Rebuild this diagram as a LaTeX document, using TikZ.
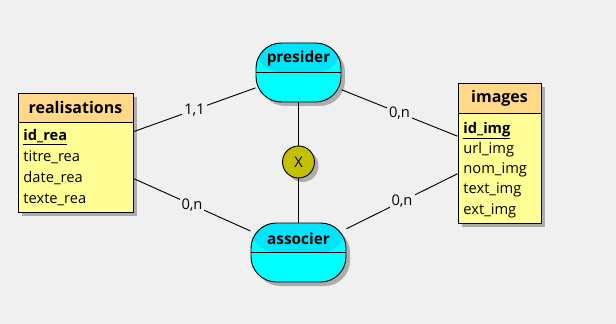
\documentclass[tikz,border=0pt]{standalone}
\usepackage{fontspec}
\setmainfont{Open Sans}
\usetikzlibrary{shadows,positioning}

\definecolor{canvas}{RGB}{240,240,240}
\definecolor{enthead}{RGB}{255,216,136}
\definecolor{entbody}{RGB}{255,255,150}
\definecolor{reltop}{RGB}{0,228,250}
\definecolor{relbody}{RGB}{0,255,255}
\definecolor{crossfill}{RGB}{196,192,0}

\begin{document}
\begin{tikzpicture}[x=0.75pt, y=-0.75pt, line width=0.7pt,
    shade/.style={drop shadow={shadow xshift=3pt, shadow yshift=-3pt,
      fill=black!32, opacity=1}},
    % entity box, #1 = height of the title band
    entity/.style={draw, fill=entbody, inner sep=0pt, shade,
      path picture={
        \fill[enthead] (path picture bounding box.north west) rectangle
          ([yshift=-#1]path picture bounding box.north east);
        \draw ([yshift=-#1]path picture bounding box.north west) --
          ([yshift=-#1]path picture bounding box.north east);}},
    relation/.style={draw, fill=relbody, inner sep=0pt, rounded corners=19pt,
      minimum height=44.25pt, shade,
      path picture={
        \fill[reltop] (path picture bounding box.north west) rectangle
          (path picture bounding box.east);
        \draw (path picture bounding box.west) --
          (path picture bounding box.east);}},
    title/.style={font=\fontsize{12}{14}\selectfont\bfseries},
    relname/.style={font=\fontsize{11.5}{14}\selectfont\bfseries},
    field/.style={anchor=base west, inner sep=0pt,
      font=\fontsize{11}{13}\selectfont},
    card/.style={fill=canvas, inner sep=1.5pt, font=\fontsize{11}{13}\selectfont},
    cross/.style={circle, draw, fill=crossfill, minimum size=24pt, inner sep=0pt,
      shade, font=\fontsize{11}{13}\selectfont}]

  \useasboundingbox[fill=canvas] (0,0) rectangle (616,324);

  % Entities
  \node[entity=21.75pt, minimum width=86.25pt, minimum height=89.25pt]
    (rea) at (75.5,152.5) {};
  \node[entity=22.5pt, minimum width=62.25pt, minimum height=105pt]
    (img) at (499.5,153) {};

  \node[title] (rea-title) at (75.5,107.5) {realisations};
  \node[title] (img-title) at (499.5,98) {images};

  % Fields
  \node[field] (rea-f0) at (23,140) {\underline{\textbf{id\_rea}}};
  \foreach \f [count=\i] in {titre\_rea, date\_rea, texte\_rea}
    \node[field] (rea-f\i) at (23,{140+21*\i}) {\f};

  \node[field] (img-f0) at (463,133) {\underline{\textbf{id\_img}}};
  \foreach \f [count=\i] in {url\_img, nom\_img, text\_img, ext\_img}
    \node[field] (img-f\i) at (463,{133+20.25*\i}) {\f};

  % Associations
  \node[relation, minimum width=63.75pt] (presider) at (298.5,72.5) {};
  \node[relation, minimum width=71.25pt] (associer) at (298.5,252.5) {};
  \node[relname] (presider-name) at (298.5,59) {presider};
  \node[relname] (associer-name) at (298.5,239) {associer};

  \node[cross] (excl) at (298.5,162) {X};

  % Links
  \draw (rea) -- node[card] {1,1} (presider);
  \draw (rea) -- node[card] {0,n} (associer);
  \draw (presider) -- node[card] {0,n} (img);
  \draw (associer) -- node[card] {0,n} (img);
  \draw (presider) -- (excl);
  \draw (excl) -- (associer);
\end{tikzpicture}
\end{document}
